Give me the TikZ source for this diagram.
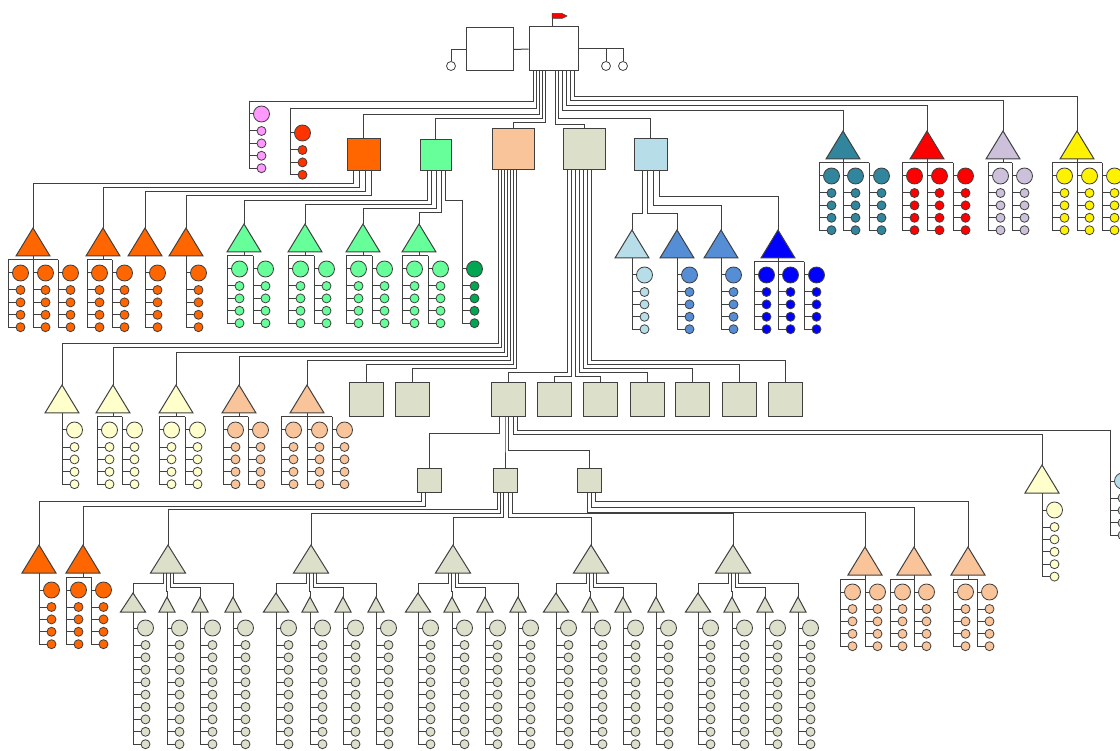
\documentclass[tikz,border=0pt]{standalone}
\definecolor{linec}{HTML}{404040}
\definecolor{orangeA}{HTML}{FF6600}
\definecolor{redO}{HTML}{FF3300}
\definecolor{greenA}{HTML}{66FF99}
\definecolor{greenD}{HTML}{00A651}
\definecolor{peachA}{HTML}{F9C49A}
\definecolor{grayA}{HTML}{DCE0CB}
\definecolor{blueL}{HTML}{B7DEE8}
\definecolor{blueM}{HTML}{558ED5}
\definecolor{tealA}{HTML}{31859C}
\definecolor{lavA}{HTML}{CCC0DA}
\definecolor{yelL}{HTML}{FFFFCC}
\definecolor{pinkA}{HTML}{FF99FF}
\tikzset{
  ln/.style={draw=linec, line width=1pt},
  unitbox/.style={draw=linec, line width=1pt, inner sep=0pt},
  bigdot/.style={circle, draw=linec, line width=0.8pt, minimum size=16pt, inner sep=0pt},
  smalldot/.style={circle, draw=linec, line width=0.8pt, minimum size=9pt, inner sep=0pt},
  opendot/.style={circle, draw=linec, line width=0.8pt, fill=white, minimum size=9pt, inner sep=0pt}
}
% one column: name, line x, line top, big dot y, colour, small dots
\newcommand{\member}[6]{%
  \coordinate (#1) at (#2,#3);
  \node[bigdot, fill=#5] (#1-0) at ({#2+12.5},#4) {};
  \draw[ln] (#1) |- (#1-0);
  \foreach \k in {1,...,#6}
    {\node[smalldot, fill=#5] (#1-\k) at ({#2+12.5},{#4+17+(\k-1)*12.4}) {};
     \draw[ln] (#1) |- (#1-\k);}
}
% triangle with columns: name, x, apex y, colour, column offsets, small dots
\newcommand{\team}[6]{%
  \coordinate (#1) at (#2,#3);
  \draw[ln, fill=#4] (#1) -- ++(17,28) -- ++(-34,0) -- cycle;
  \coordinate (#1-bar) at (#2,#3+32);
  \draw[ln] (#1) ++(0,28) -- (#1-bar);
  \foreach \o [count=\c] in {#5}
    {\member{#1-\c}{#2+\o}{#3+32}{#3+45}{#4}{#6}
     \draw[ln] (#1-bar) -- (#1-\c);}
}
% small triangle over a long column
\newcommand{\subunit}[5]{%
  \coordinate (#1) at (#2,#3);
  \draw[ln, fill=grayA] (#1) -- ++(#4,#5) -- ++(-2*#4,0) -- cycle;
  \member{#1-m}{#2}{#3+#5}{628}{grayA}{9}
}
% big grey triangle with four small ones
\newcommand{\grp}[2]{%
  \coordinate (#1) at (#2,545);
  \draw[ln, fill=grayA] (#1) -- ++(17.5,28) -- ++(-35,0) -- cycle;
  \coordinate (#1-base) at (#2,573);
  \subunit{#1-a}{#2-35}{593}{12.5}{19}
  \subunit{#1-b}{#2-1}{597}{8}{15}
  \subunit{#1-c}{#2+32}{597}{8}{15}
  \subunit{#1-d}{#2+65}{597}{8}{15}
  \draw[ln] ([xshift=-5pt]#1-base) -- ++(0,10) -| (#1-a);
  \draw[ln] ([xshift=-2pt]#1-base) -- ++(0,18) -| (#1-b);
  \draw[ln] ([xshift=2pt]#1-base) -- ++(0,14) -| (#1-c);
  \draw[ln] ([xshift=5pt]#1-base) -- ++(0,10) -| (#1-d);
}
% parent bottom, shift, depth, child
\newcommand{\joinup}[4]{\draw[ln] ([xshift=#2pt]#1.south) -- ++(0,#3) -| (#4);}

\begin{document}
\begin{tikzpicture}[x=1pt, y=-1pt]
\useasboundingbox (0,0) rectangle (1120,751);

% top
\node[unitbox, minimum width=47pt, minimum height=43pt] (deputy) at (489.5,49.5) {};
\node[unitbox, minimum width=49pt, minimum height=44pt] (chief) at (553.5,49) {};
\draw[ln] (deputy) -- (chief);
\draw[ln] ([xshift=-1.5pt]chief.north) -- ++(0,-13) coordinate (pole);
\draw[draw=linec, line width=0.5pt, fill=red] (pole) -- ++(10,0) -- ++(5,2.5) -- ++(-5,2.5) -- ++(-10,0) -- cycle;
\node[opendot] (dl) at (451,66) {};
\node[opendot] (dr1) at (606,66) {};
\node[opendot] (dr2) at (623,66) {};
\draw[ln] (deputy.west) -| (dl);
\draw[ln] (chief.east) -| (dr1);
\draw[ln] (chief.east) -| (dr2);

% second row
\member{pink}{249}{101}{114}{pinkA}{4}
\member{redp}{290}{108}{133}{redO}{3}
\node[unitbox, fill=orangeA, minimum width=33pt, minimum height=32pt] (org) at (363.5,155) {};
\node[unitbox, fill=greenA, minimum width=31pt, minimum height=31pt] (grn) at (435.5,155.5) {};
\node[unitbox, fill=peachA, minimum width=42pt, minimum height=41pt] (pch) at (513,149.5) {};
\node[unitbox, fill=grayA, minimum width=42pt, minimum height=41pt] (gry) at (584,149.5) {};
\node[unitbox, fill=blueL, minimum width=33pt, minimum height=32pt] (lbl) at (650.5,155) {};
\team{tl}{843}{131}{tealA}{-24,0,26}{4}
\team{rd}{927}{131}{red}{-25,0,26}{4}
\team{lv}{1003}{131}{lavA}{-15,9}{4}
\team{yw}{1077}{131}{yellow}{-25,0,25}{4}

\joinup{chief}{-20}{30}{pink}
\joinup{chief}{-17}{37}{redp}
\joinup{chief}{-14}{43}{org}
\joinup{chief}{-11}{47}{grn}
\joinup{chief}{-8}{51}{pch}
\joinup{chief}{2}{53}{gry}
\joinup{chief}{5}{47}{lbl}
\joinup{chief}{9}{39}{tl}
\joinup{chief}{13}{34}{rd}
\joinup{chief}{17}{29}{lv}
\joinup{chief}{21}{25}{yw}

% orange teams
\team{o1}{33}{228}{orangeA}{-25,0,25}{4}
\team{o2}{103}{228}{orangeA}{-16,9}{4}
\team{o3}{145}{228}{orangeA}{0}{4}
\team{o4}{186}{228}{orangeA}{0}{4}
\joinup{org}{-10}{12}{o1}
\joinup{org}{-4}{16}{o2}
\joinup{org}{2}{20}{o3}
\joinup{org}{8}{24}{o4}

% green teams
\team{g1}{244}{224}{greenA}{-17,9}{4}
\team{g2}{305}{224}{greenA}{-17,9}{4}
\team{g3}{363}{224}{greenA}{-17,9}{4}
\team{g4}{419}{224}{greenA}{-17,9}{4}
\member{gd}{462}{200}{269}{greenD}{4}
\joinup{grn}{-8}{29}{g1}
\joinup{grn}{-4}{33}{g2}
\joinup{grn}{1}{37}{g3}
\joinup{grn}{6}{41}{g4}
\joinup{grn}{10}{29}{gd}

% blue teams
\team{lb1}{632}{230}{blueL}{0}{4}
\team{lb2}{677}{230}{blueM}{0}{4}
\team{lb3}{721}{230}{blueM}{0}{4}
\team{lb4}{778}{230}{blue}{-24,0,26}{4}
\joinup{lbl}{-8}{42}{lb1}
\joinup{lbl}{-3}{42}{lb2}
\joinup{lbl}{3}{34}{lb3}
\joinup{lbl}{9}{25}{lb4}

% peach square
\team{ya}{62}{385}{yelL}{0}{4}
\team{yb}{113}{385}{yelL}{-16,9}{4}
\team{yc}{176}{385}{yelL}{-17,9}{4}
\team{pa}{239}{385}{peachA}{-16,9}{4}
\team{pb}{307}{385}{peachA}{-26,0,25}{4}
\node[unitbox, fill=grayA, minimum size=34pt] (r1) at (366,400) {};
\node[unitbox, fill=grayA, minimum size=34pt] (r2) at (412,400) {};
\joinup{pch}{-15}{173}{ya}
\joinup{pch}{-12}{177}{yb}
\joinup{pch}{-9}{182}{yc}
\joinup{pch}{-6}{186}{pa}
\joinup{pch}{-3}{190}{pb}
\joinup{pch}{0}{194}{r1}
\joinup{pch}{3}{198}{r2}

% grey square
\node[unitbox, fill=grayA, minimum size=34pt] (r3) at (508,400) {};
\node[unitbox, fill=grayA, minimum size=34pt] (r4) at (554,400) {};
\node[unitbox, fill=grayA, minimum size=34pt] (r5) at (600,400) {};
\node[unitbox, fill=grayA, minimum size=34pt] (r6) at (647,400) {};
\node[unitbox, fill=grayA, minimum size=34pt] (r7) at (692,400) {};
\node[unitbox, fill=grayA, minimum size=34pt] (r8) at (739,400) {};
\node[unitbox, fill=grayA, minimum size=34pt] (r9) at (785,400) {};
\joinup{gry}{-17}{202}{r3}
\joinup{gry}{-13}{206}{r4}
\joinup{gry}{-9}{206}{r5}
\joinup{gry}{-5}{202}{r6}
\joinup{gry}{-1}{198}{r7}
\joinup{gry}{3}{194}{r8}
\joinup{gry}{7}{190}{r9}

% under r3
\node[unitbox, fill=grayA, minimum size=24pt] (lsq) at (429,480) {};
\node[unitbox, fill=grayA, minimum size=24pt] (msq) at (505,480) {};
\node[unitbox, fill=grayA, minimum size=24pt] (rsq) at (589,480) {};
\team{yx}{1042}{465}{yelL}{0}{5}
\member{lbx}{1110}{430}{481}{blueL}{4}
\joinup{r3}{-9}{16}{lsq}
\joinup{r3}{-3}{20}{msq}
\joinup{r3}{0}{33}{rsq}
\joinup{r3}{5}{17}{yx}
\joinup{r3}{9}{13}{lbx}

% bottom row
\team{ob1}{39}{545}{orangeA}{0}{4}
\team{ob2}{83}{545}{orangeA}{-17,8}{4}
\joinup{lsq}{-8}{9}{ob1}
\joinup{lsq}{-4}{14}{ob2}

\grp{gA}{168}
\grp{gB}{311}
\grp{gC}{453}
\grp{gD}{591}
\grp{gE}{733}
\joinup{msq}{-8}{17}{gA}
\joinup{msq}{-5}{21}{gB}
\joinup{msq}{-2}{25}{gC}
\joinup{msq}{3}{25}{gD}
\joinup{msq}{7}{21}{gE}

\team{pb1}{865}{547}{peachA}{-25,0}{4}
\team{pb2}{914}{547}{peachA}{-24,0}{4}
\team{pb3}{968}{547}{peachA}{-15,9}{4}
\joinup{rsq}{-2}{20}{pb1}
\joinup{rsq}{2}{15}{pb2}
\joinup{rsq}{6}{9}{pb3}
\end{tikzpicture}
\end{document}
